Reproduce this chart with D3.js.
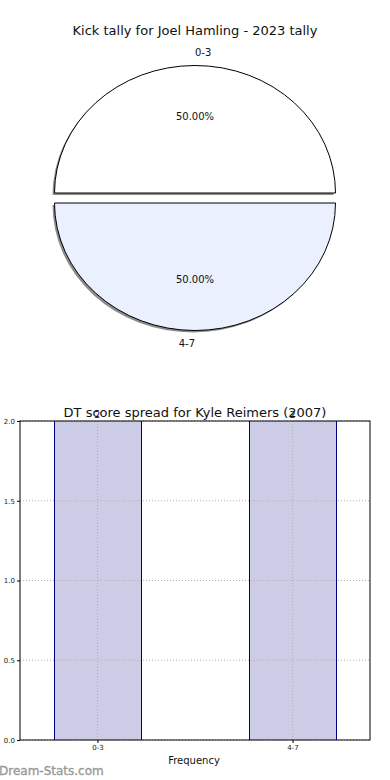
<!DOCTYPE html>
<html><head><meta charset="utf-8">
<script src="https://cdn.jsdelivr.net/npm/d3@7"></script>
<style>body{margin:0;background:#fff}svg{display:block;font-family:"DejaVu Sans",sans-serif}</style>
</head><body>
<svg id="c" width="390" height="780"></svg>
<script>
const pieTitle = "Kick tally for Joel Hamling - 2023 tally";
const pieLabels = ["0-3", "4-7"];
const pieValues = [1, 1];
const pieColors = ["#ffffff", "#eaf0fd"];

const barTitle = "DT score spread for Kyle Reimers (2007)";
const barCategories = ["0-3", "4-7"];
const barValues = [2, 2];
const yTicks = [0, 0.5, 1.0, 1.5, 2.0];
const xLabel = "Frequency";
const watermark = "Dream-Stats.com";

const svg = d3.select("#c");

// ---------- Pie ----------
const cx = 195, cy = 198, rx = 140.5, ry = 127.5, explode = 5;
svg.append("text").attr("x", 195).attr("y", 35).attr("text-anchor", "middle")
  .attr("font-size", 13).attr("fill", "#111").text(pieTitle);

const pie = d3.pie().sort(null).startAngle(-Math.PI / 2).endAngle(3 * Math.PI / 2)(pieValues);
const arc = d3.arc().innerRadius(0).outerRadius(1);
const totalPie = d3.sum(pieValues);

pie.forEach((d, i) => {
  const mid = (d.startAngle + d.endAngle) / 2;
  const dx = Math.sin(mid) * explode, dy = -Math.cos(mid) * explode;
  svg.append("path").attr("d", arc(d))
    .attr("transform", `translate(${cx + dx - 2},${cy + dy + 2}) scale(${rx},${ry})`)
    .attr("fill", "#000").attr("fill-opacity", 0.45)
    .attr("stroke", "none");
});
pie.forEach((d, i) => {
  const mid = (d.startAngle + d.endAngle) / 2;
  const dx = Math.sin(mid) * explode, dy = -Math.cos(mid) * explode;
  svg.append("path").attr("d", arc(d))
    .attr("transform", `translate(${cx + dx},${cy + dy}) scale(${rx},${ry})`)
    .attr("fill", pieColors[i]).attr("stroke", "#000").attr("stroke-width", 1)
    .attr("vector-effect", "non-scaling-stroke");
  const ox = cx + dx, oy = cy + dy;
  const ly = oy - Math.cos(mid) * ry * 1.1;
  svg.append("text").attr("x", ox).attr("y", ly).attr("dy", "0.35em")
    .attr("text-anchor", i === 0 ? "start" : "end")
    .attr("font-size", 10).attr("fill", "#111").text(pieLabels[i]);
  const px = ox + Math.sin(mid) * rx * 0.6, py = oy - Math.cos(mid) * ry * 0.6;
  svg.append("text").attr("x", px).attr("y", py).attr("dy", "0.35em")
    .attr("text-anchor", "middle").attr("font-size", 10).attr("fill", "#111")
    .text((pieValues[i] / totalPie * 100).toFixed(2) + "%");
});

// ---------- Bar ----------
const L = 20, R = 370, T = 421, B = 740;
const x = d3.scalePoint().domain(barCategories).range([L, R]).padding(0.397);
const y = d3.scaleLinear().domain([0, 2]).range([B, T]);
const bw = x.step() * 0.446;
const g = svg.append("g");

g.selectAll("rect.bar").data(barValues).join("rect").attr("class", "bar")
  .attr("x", (d, i) => x(barCategories[i]) - bw / 2).attr("width", bw)
  .attr("y", d => y(d)).attr("height", d => B - y(d))
  .attr("fill", "#cccce6");
g.selectAll("line.bedge").data(barValues.flatMap((d, i) => [[x(barCategories[i]) - bw / 2, d], [x(barCategories[i]) + bw / 2, d]]))
  .join("line").attr("class", "bedge")
  .attr("x1", d => Math.round(d[0]) + 0.5).attr("x2", d => Math.round(d[0]) + 0.5).attr("y1", B).attr("y2", d => y(d[1]))
  .attr("stroke", "#000080").attr("stroke-width", 1);

g.selectAll("line.gy").data(yTicks).join("line").attr("class", "gy")
  .attr("x1", L).attr("x2", R).attr("y1", d => y(d)).attr("y2", d => y(d))
  .attr("stroke", "#b0b0b0").attr("stroke-dasharray", "1,2");
g.selectAll("line.gx").data(barCategories).join("line").attr("class", "gx")
  .attr("x1", d => x(d)).attr("x2", d => x(d)).attr("y1", T).attr("y2", B)
  .attr("stroke", "#b0b0b0").attr("stroke-dasharray", "1,2");

g.append("rect").attr("x", L).attr("y", T).attr("width", R - L).attr("height", B - T)
  .attr("fill", "none").attr("stroke", "#000").attr("stroke-width", 1);

const yAxis = d3.axisLeft(y).tickValues(yTicks).tickFormat(d3.format(".1f")).tickSize(3).tickPadding(2);
const ya = svg.append("g").attr("transform", `translate(${L},0)`).call(yAxis);
ya.select(".domain").remove();
ya.selectAll("text").attr("font-size", 7).attr("fill", "#222").attr("font-family", "DejaVu Sans");
const xAxis = d3.axisBottom(x).tickSize(3).tickPadding(2);
const xa = svg.append("g").attr("transform", `translate(0,${B})`).call(xAxis);
xa.select(".domain").remove();
xa.selectAll("text").attr("font-size", 7).attr("fill", "#222").attr("font-family", "DejaVu Sans");

svg.selectAll("text.vl").data(barValues).join("text").attr("class", "vl")
  .attr("x", (d, i) => x(barCategories[i])).attr("y", d => y(d) - 3)
  .attr("text-anchor", "middle").attr("font-size", 9).attr("fill", "#000080").text(d => d);

svg.append("text").attr("x", 195).attr("y", 417).attr("text-anchor", "middle")
  .attr("font-size", 13).attr("fill", "#111").text(barTitle);
svg.append("text").attr("x", 194).attr("y", 764).attr("text-anchor", "middle")
  .attr("font-size", 10).attr("fill", "#111").text(xLabel);
svg.append("text").attr("x", -1).attr("y", 775)
  .attr("font-size", 12).attr("fill", "#999").attr("stroke", "#999").attr("stroke-width", 0.35)
  .text(watermark);
</script>
</body></html>
